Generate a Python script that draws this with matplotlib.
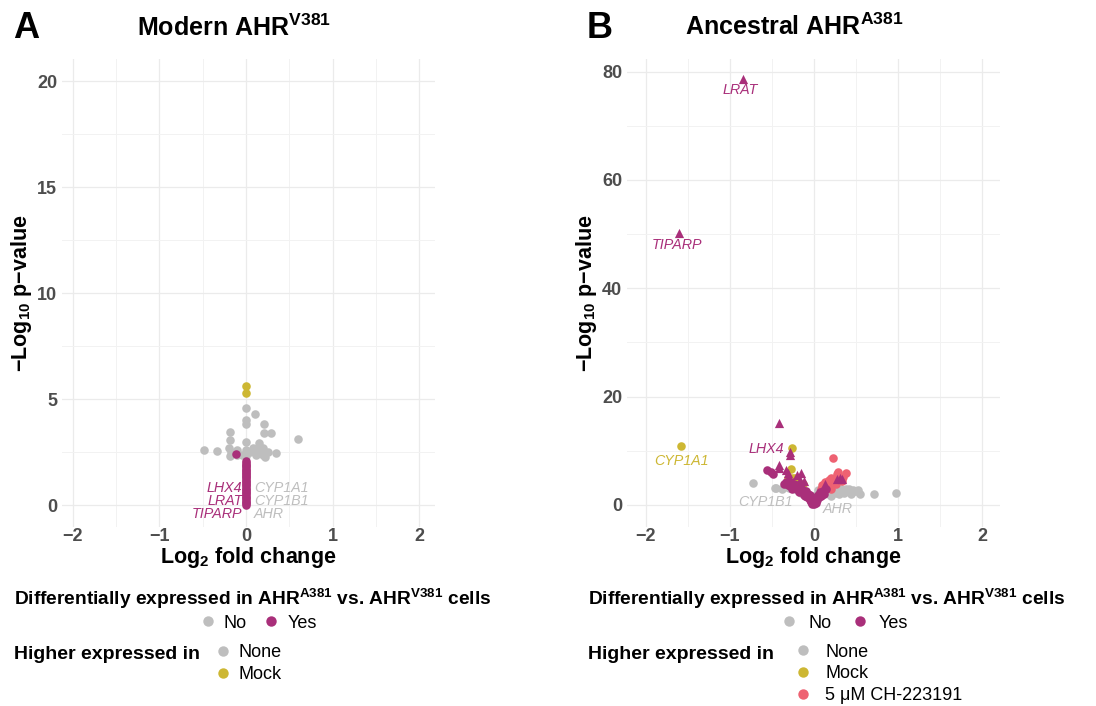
import matplotlib
matplotlib.use('Agg')
import matplotlib.pyplot as plt
from matplotlib.lines import Line2D
from matplotlib.ticker import MultipleLocator

plt.rcParams['font.family'] = ['Liberation Sans', 'DejaVu Sans']
plt.rcParams['mathtext.fontset'] = 'custom'
plt.rcParams['mathtext.rm'] = 'Liberation Sans'
plt.rcParams['mathtext.it'] = 'Liberation Sans:italic'
plt.rcParams['mathtext.bf'] = 'Liberation Sans:bold'

GREY = '#BEBEBE'
MAGENTA = '#A92F7A'
YELLOW = '#CDB733'
PINK = '#EE6272'

# ---- panel A : modern AHR V381 ----
a_no_x = [0.00, 0.10, 0.00, 0.00, 0.21, -0.19, 0.21, 0.29, 0.60, 0.00, -0.19, 0.15,
          -0.48, -0.33, -0.20, -0.17, -0.10, 0.00, 0.05, 0.10, 0.15, 0.20, 0.25, 0.35,
          -0.05, 0.12, 0.20, -0.18, 0.08, 0.18, 0.00, -0.10, 0.22]
a_no_y = [4.60, 4.30, 4.00, 3.85, 3.85, 3.45, 3.40, 3.40, 3.10, 3.00, 3.05, 2.95,
          2.60, 2.55, 2.70, 2.50, 2.60, 2.60, 2.50, 2.55, 2.60, 2.70, 2.50, 2.45,
          2.35, 2.35, 2.35, 2.30, 2.70, 2.45, 2.30, 2.35, 2.25]
a_mock_x = [0.00, 0.00]
a_mock_y = [5.60, 5.30]
a_yes_x = [-0.12, 0.00, 0.00, 0.00, 0.00, 0.00, 0.00, 0.00, 0.00, 0.00, 0.00, 0.00,
           0.00, 0.00, 0.00, 0.00, 0.00, 0.00, 0.00, 0.00, 0.00, 0.00, 0.00, 0.00,
           0.00, 0.00, 0.00, 0.00, 0.00]
a_yes_y = [2.40, 0.02, 0.09, 0.17, 0.24, 0.32, 0.40, 0.47, 0.55, 0.62, 0.70, 0.78,
           0.85, 0.93, 1.00, 1.08, 1.15, 1.23, 1.31, 1.38, 1.46, 1.53, 1.61, 1.68,
           1.76, 1.84, 1.91, 1.98, 2.06]
a_lab_left = ['LHX4', 'LRAT', 'TIPARP']
a_lab_left_y = [0.79, 0.19, -0.42]
a_lab_right = ['CYP1A1', 'CYP1B1', 'AHR']
a_lab_right_y = [0.79, 0.19, -0.42]

# ---- panel B : ancestral AHR A381 ----
b_no_x = [-0.72, -0.45, -0.35, -0.30, -0.46, 0.72, 0.98, 0.08, 0.12, 0.18, 0.22, 0.28,
          0.32, 0.36, 0.40, 0.45, 0.50, 0.55, 0.15, 0.25, 0.42, -0.10, -0.20, 0.05, 0.03,
          0.30, 0.38, 0.47, 0.10, 0.20, 0.26, 0.34, 0.44, 0.52, -0.38, -0.25, -0.15, 0.06]
b_no_y = [4.10, 3.10, 3.40, 3.10, 3.20, 2.00, 2.20, 2.30, 2.80, 2.10, 2.60, 2.40,
          2.90, 2.20, 2.60, 2.30, 2.50, 2.10, 3.10, 3.20, 3.00, 2.50, 2.80, 2.70, 1.80,
          2.00, 2.90, 2.70, 1.90, 1.70, 2.20, 2.50, 2.00, 2.80, 2.90, 3.20, 2.20, 1.60]
b_mock_x = [-1.58, -0.26, -0.27, -0.31, -0.20, -0.13]
b_mock_y = [10.9, 10.5, 6.6, 4.9, 4.3, 3.9]
b_mock_tri_x = [-0.23, -0.30]
b_mock_tri_y = [5.0, 4.6]
b_ch_x = [0.23, 0.29, 0.38, 0.27, 0.21, 0.13, 0.10, 0.17, 0.24, 0.30, 0.08, 0.15,
          0.20, 0.33, 0.12, 0.26, 0.18, 0.35]
b_ch_y = [8.6, 6.1, 5.9, 5.8, 4.9, 4.3, 3.6, 3.9, 4.5, 5.2, 3.0, 3.3, 3.0, 4.4, 2.8,
          3.8, 4.7, 5.1]
b_yes_x = [-0.56, -0.51, -0.48, -0.31, -0.25, -0.20, -0.15, -0.11, -0.08, -0.05, -0.03,
           0.00, 0.02, 0.04, 0.06, 0.09, 0.11, 0.14, -0.02, -0.06, -0.12, -0.18, -0.28,
           -0.35, 0.01, -0.01, 0.03, -0.04, -0.22, -0.14, 0.07, -0.09, 0.00, -0.26,
           -0.33, -0.19, -0.07, 0.05, 0.12, -0.16, -0.24, -0.10, 0.08, -0.30]
b_yes_y = [6.5, 6.0, 5.8, 3.7, 3.2, 3.0, 2.6, 2.2, 1.5, 0.9, 0.5, 0.1, 0.4, 0.9, 1.4,
           2.0, 2.5, 3.0, 0.2, 1.2, 1.9, 2.4, 3.5, 3.8, 0.7, 1.0, 1.5, 1.8, 3.3, 2.9,
           2.3, 2.6, 1.3, 2.9, 4.2, 3.6, 2.0, 1.9, 2.0, 3.3, 3.9, 1.7, 1.6, 4.4]
b_yes_tri_x = [-0.84, -1.60, -0.41, -0.28, -0.28, -0.42, -0.42, -0.33, -0.31, -0.15,
               -0.20, -0.17, -0.12, 0.13, 0.27, 0.34, 0.31, -0.25]
b_yes_tri_y = [78.6, 50.2, 15.1, 9.8, 9.2, 7.4, 6.9, 6.5, 5.9, 5.9, 5.5, 4.6, 4.4, 3.8,
               4.8, 4.8, 4.9, 4.2]
b_labels = ['LRAT', 'TIPARP', 'CYP1A1', 'LHX4', 'CYP1B1', 'AHR']
b_label_x = [-0.87, -1.63, -1.58, -0.56, -0.58, 0.28]
b_label_y = [76.6, 48.0, 8.2, 10.3, 0.6, -0.8]
b_label_col = [MAGENTA, MAGENTA, YELLOW, MAGENTA, GREY, GREY]

W, H = 1096, 706
fig = plt.figure(figsize=(W / 100, H / 100), dpi=100)


def fx(p):
    return p / W


def fy(p):
    return 1 - p / H


ax1 = fig.add_axes([fx(62), fy(527), fx(435) - fx(62), fy(59) - fy(527)])
ax2 = fig.add_axes([fx(627), fy(527), fx(1000) - fx(627), fy(59) - fy(527)])

S = 38
ax1.scatter(a_no_x, a_no_y, s=S, color=GREY, lw=0, zorder=3)
ax1.scatter(a_mock_x, a_mock_y, s=S, color=YELLOW, lw=0, zorder=3)
ax1.scatter(a_yes_x, a_yes_y, s=S, color=MAGENTA, lw=0, zorder=4)
for lab, yy in zip(a_lab_left, a_lab_left_y):
    ax1.text(-0.04, yy, lab, color=MAGENTA, style='italic', fontsize=10.3,
             ha='right', va='center', zorder=5)
for lab, yy in zip(a_lab_right, a_lab_right_y):
    ax1.text(0.09, yy, lab, color=GREY, style='italic', fontsize=10.3,
             ha='left', va='center', zorder=5)

ax2.scatter(b_no_x, b_no_y, s=S, color=GREY, lw=0, zorder=3)
ax2.scatter(b_mock_x, b_mock_y, s=S, color=YELLOW, lw=0, zorder=3)
ax2.scatter(b_mock_tri_x, b_mock_tri_y, s=S, marker='v', color=YELLOW, lw=0, zorder=3)
ax2.scatter(b_ch_x, b_ch_y, s=S, color=PINK, lw=0, zorder=3)
ax2.scatter(b_yes_x, b_yes_y, s=S, color=MAGENTA, lw=0, zorder=4)
ax2.scatter(b_yes_tri_x, b_yes_tri_y, s=S + 6, marker='^', color=MAGENTA, lw=0, zorder=4)
for lab, xx, yy, c in zip(b_labels, b_label_x, b_label_y, b_label_col):
    ax2.text(xx, yy, lab, color=c, style='italic', fontsize=10.3,
             ha='center', va='center', zorder=5)

ax1.set_xlim(-2.123, 2.18)
ax1.set_ylim(-1.03, 21.04)
ax1.yaxis.set_major_locator(MultipleLocator(5))
ax1.yaxis.set_minor_locator(MultipleLocator(2.5))
ax2.set_xlim(-2.222, 2.214)
ax2.set_ylim(-4.07, 82.34)
ax2.yaxis.set_major_locator(MultipleLocator(20))
ax2.yaxis.set_minor_locator(MultipleLocator(10))

ylab = '−Log$_{\\mathbf{10}}$ p−value'
xlab = 'Log$_{\\mathbf{2}}$ fold change'
for ax in (ax1, ax2):
    ax.xaxis.set_major_locator(MultipleLocator(1))
    ax.xaxis.set_minor_locator(MultipleLocator(0.5))
    ax.set_xticks([-2, -1, 0, 1, 2])
    ax.set_xticklabels(['−2', '−1', '0', '1', '2'])
    ax.grid(which='major', color='#EBEBEB', lw=0.9, zorder=0)
    ax.grid(which='minor', color='#F2F2F2', lw=0.7, zorder=0)
    ax.set_axisbelow(True)
    for sp in ax.spines.values():
        sp.set_visible(False)
    ax.tick_params(which='both', length=0)
    ax.tick_params(axis='y', pad=3.5)
    ax.tick_params(axis='x', pad=0.5)
    for t in ax.get_xticklabels() + ax.get_yticklabels():
        t.set_fontsize(13)
        t.set_fontweight('bold')
        t.set_color('#4D4D4D')
    ax.set_xlabel(xlab, fontsize=15.5, fontweight='bold', labelpad=0.5)
    ax.set_ylabel(ylab, fontsize=15.5, fontweight='bold', labelpad=2)

# titles and panel letters
fig.text(fx(234), fy(36), 'Modern AHR$^{\\mathbf{V381}}$', fontsize=18,
         fontweight='bold', ha='center', va='baseline')
fig.text(fx(794), fy(35), 'Ancestral AHR$^{\\mathbf{A381}}$', fontsize=18,
         fontweight='bold', ha='center', va='baseline')
fig.text(fx(13), fy(38), 'A', fontsize=26, fontweight='bold', ha='left', va='baseline')
fig.text(fx(587), fy(38), 'B', fontsize=26, fontweight='bold', ha='left', va='baseline')

# legends
de_title = 'Differentially expressed in AHR$^{\\mathbf{A381}}$ vs. AHR$^{\\mathbf{V381}}$ cells'
fig.text(fx(14), fy(605), de_title, fontsize=13.8, fontweight='bold', ha='left', va='baseline')
fig.text(fx(588), fy(605), de_title, fontsize=13.8, fontweight='bold', ha='left', va='baseline')
fig.text(fx(14), fy(659), 'Higher expressed in', fontsize=14, fontweight='bold',
         ha='left', va='baseline')
fig.text(fx(588), fy(659), 'Higher expressed in', fontsize=14, fontweight='bold',
         ha='left', va='baseline')


def dot(c, label):
    return Line2D([], [], marker='o', ls='', color=c, markersize=7.5,
                  markeredgewidth=0, label=label)


de_handles = [dot(GREY, 'No'), dot(MAGENTA, 'Yes')]
leg_kw = dict(frameon=False, fontsize=13, handlelength=1.0, borderpad=0,
              borderaxespad=0, loc='center left')
fig.legend(handles=de_handles, ncol=2, bbox_to_anchor=(fx(198.5), fy(623)),
           handletextpad=0.4, columnspacing=0.83, **leg_kw)
fig.legend(handles=de_handles, ncol=2, bbox_to_anchor=(fx(780.3), fy(623)),
           handletextpad=0.55, columnspacing=1.06, **leg_kw)
fig.legend(handles=[dot(GREY, 'None'), dot(YELLOW, 'Mock')], ncol=1,
           bbox_to_anchor=(fx(214.3), fy(663.5)), handletextpad=0.33,
           labelspacing=0.27, **leg_kw)
fig.legend(handles=[dot(GREY, 'None'), dot(YELLOW, 'Mock'), dot(PINK, '5 μM CH-223191')],
           ncol=1, bbox_to_anchor=(fx(793.7), fy(674)), handletextpad=0.74,
           labelspacing=0.27, **leg_kw)

fig.savefig('out.png', dpi=100)
